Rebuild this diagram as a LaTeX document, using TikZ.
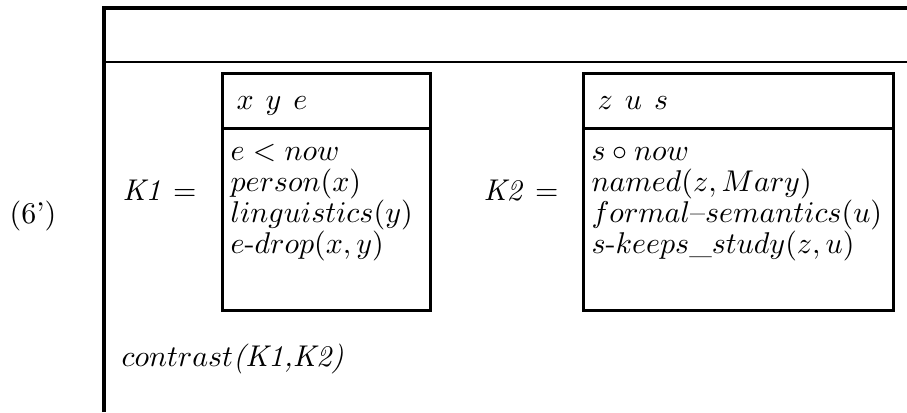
\documentclass[tikz,border=0pt]{standalone}
\usepackage{amsmath,amssymb}
\usepackage{tikz}
\usetikzlibrary{positioning}

\begin{document}
\begin{tikzpicture}[x=0.3333pt,y=-0.3333pt]
\tikzstyle{drs}=[draw,line width=1pt]
\tikzstyle{t}=[anchor=base west,inner sep=0pt]
\useasboundingbox (0,0) rectangle (907,412);
% main drs frame
\draw[line width=1.1pt] (104,412) -- (104,8) -- (907,8);
\draw[line width=0.8pt] (104,62) -- (907,62);
% K1 box
\draw[drs] (222,73) rectangle (430,310);
\draw[drs] (222,128) -- (430,128);
% K2 box
\draw[drs] (583,73) rectangle (893,310);
\draw[drs] (583,128) -- (893,128);
\node[t] (num) at (9,223) {(6')};
\node[t] (k1) at (122,200) {\textit{K1}\hspace{4pt}$=$};
\node[t] (k2) at (483,200) {\textit{K2}\hspace{4pt}$=$};
% K1 contents
\node[t] (u1) at (236,109) {$x\hspace{4pt}y\hspace{4pt}e$};
\node[t] (a1) at (230,160) {$e<now$};
\node[t] (a2) at (230,191) {$person(x)$};
\node[t] (a3) at (230,222) {$linguistics(y)$};
\node[t] (a4) at (230,253) {$e\mbox{-}drop(x,y)$};
% K2 contents
\node[t] (u2) at (597,109) {$z\hspace{4pt}u\hspace{4pt}s$};
\node[t] (b1) at (591,160) {$s\circ now$};
\node[t] (b2) at (591,191) {$named(z,Mary)$};
\node[t] (b3) at (591,222) {$formal\mbox{--}semantics(u)$};
\node[t] (b4) at (591,253) {$s\mbox{-}keeps\_study(z,u)$};
\node[t] (rel) at (121,366) {$contrast$\textit{(K1,K2)}};
\end{tikzpicture}
\end{document}
